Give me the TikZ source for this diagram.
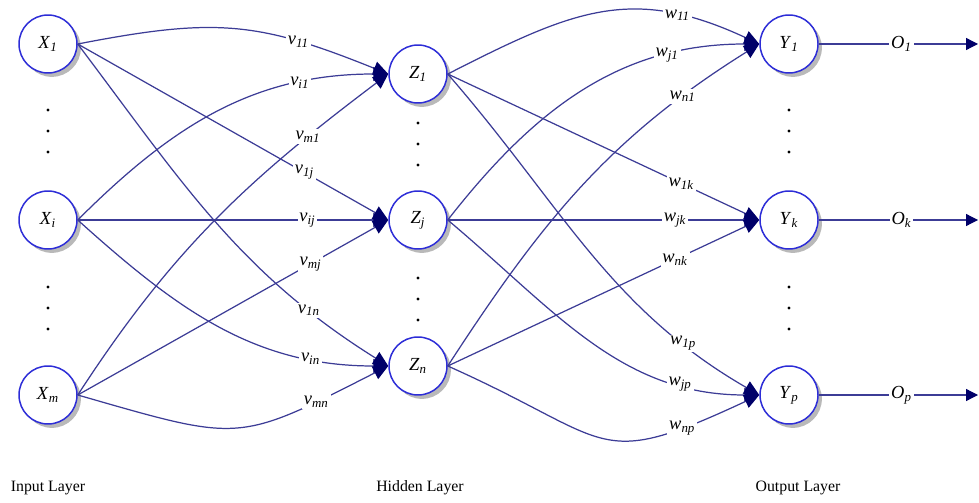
\documentclass[tikz,border=0pt]{standalone}
\usepackage{fontspec}
\setmainfont{Liberation Serif}
\usepackage{tikz}
\usetikzlibrary{arrows.meta,shadows}

\definecolor{ringblue}{RGB}{45,45,215}
\definecolor{edgeblue}{RGB}{60,60,150}
\definecolor{headblue}{RGB}{0,0,105}

\newcommand{\nlab}[2]{\textit{#1}\textsubscript{\textit{#2}}}

\begin{document}
\begin{tikzpicture}[x=0.02cm, y=-0.02cm,
  neuron/.style={circle, draw=ringblue, line width=0.85pt, fill=white, minimum size=1.16cm, inner sep=0pt, font=\fontsize{10.5}{12}\selectfont, drop shadow={shadow xshift=2.2pt, shadow yshift=-2.2pt, fill=black!55}},
  wt/.style={fill=white, inner sep=1pt, font=\fontsize{10.5}{12}\selectfont},
  conn/.style={draw=edgeblue, line width=0.7pt, -{Triangle[length=3mm, width=2.8mm, color=headblue]}},
  outarr/.style={draw=edgeblue, line width=0.7pt, -{Triangle[length=2.4mm, width=2.4mm, color=headblue]}},
  layer/.style={font=\fontsize{9}{11}\selectfont}
]
\useasboundingbox (0,0) rectangle (979,503);

% neurons
\node[neuron] (x1) at (48,44) {\nlab{X}{1}};
\node[neuron] (xi) at (48,220) {\nlab{X}{i}};
\node[neuron] (xm) at (48,395) {\nlab{X}{m}};
\node[neuron] (z1) at (418,74) {\nlab{Z}{1}};
\node[neuron] (zj) at (418,220) {\nlab{Z}{j}};
\node[neuron] (zn) at (418,366) {\nlab{Z}{n}};
\node[neuron] (y1) at (789,44) {\nlab{Y}{1}};
\node[neuron] (yk) at (789,220) {\nlab{Y}{k}};
\node[neuron] (yp) at (789,395) {\nlab{Y}{p}};

% dots between neurons
\foreach \y in {110,131,152,287,308,329} {
  \fill (48,\y) circle (0.9pt);
  \fill (789,\y) circle (0.9pt);
}
\foreach \y in {123,144,165,278,299,320}
  \fill (418,\y) circle (0.9pt);

% input -> hidden
\draw[conn] (x1.east) to[out=11, in=158, looseness=1.15] node[wt, pos=0.73] {\nlab{v}{11}} (z1.west);
\draw[conn] (xi.east) to[out=45, in=180] node[wt, pos=0.76] {\nlab{v}{i1}} (z1.west);
\draw[conn] (xm.east) to[out=57, in=-143] node[wt, pos=0.79] {\nlab{v}{m1}} (z1.west);
\draw[conn] (x1.east) -- node[wt, pos=0.73] {\nlab{v}{1j}} (zj.west);
\draw[conn] (xi.east) -- node[wt, pos=0.74] {\nlab{v}{ij}} (zj.west);
\draw[conn] (xm.east) -- node[wt, pos=0.75] {\nlab{v}{mj}} (zj.west);
\draw[conn] (x1.east) to[out=-53, in=148] node[wt, pos=0.8] {\nlab{v}{1n}} (zn.west);
\draw[conn] (xi.east) to[out=-42, in=180] node[wt, pos=0.79] {\nlab{v}{in}} (zn.west);
\draw[conn] (xm.east) to[out=-16, in=207, looseness=1.4] node[wt, pos=0.81] {\nlab{v}{mn}} (zn.west);

% hidden -> output
\draw[conn] (z1.east) to[out=27, in=155, looseness=1.15] node[wt, pos=0.76] {\nlab{w}{11}} (y1.west);
\draw[conn] (zj.east) to[out=52, in=180] node[wt, pos=0.76] {\nlab{w}{j1}} (y1.west);
\draw[conn] (zn.east) to[out=57, in=212] node[wt, pos=0.81] {\nlab{w}{n1}} (y1.west);
\draw[conn] (z1.east) -- node[wt, pos=0.75] {\nlab{w}{1k}} (yk.west);
\draw[conn] (zj.east) -- node[wt, pos=0.73] {\nlab{w}{jk}} (yk.west);
\draw[conn] (zn.east) -- node[wt, pos=0.73] {\nlab{w}{nk}} (yk.west);
\draw[conn] (z1.east) to[out=-49, in=150] node[wt, pos=0.81] {\nlab{w}{1p}} (yp.west);
\draw[conn] (zj.east) to[out=-40, in=180] node[wt, pos=0.79] {\nlab{w}{jp}} (yp.west);
\draw[conn] (zn.east) to[out=-24, in=205, looseness=1.5] node[wt, pos=0.81] {\nlab{w}{np}} (yp.west);

% outputs
\coordinate (o1) at (978,44);
\coordinate (ok) at (978,220);
\coordinate (op) at (978,395);
\draw[outarr] (y1) -- node[wt, pos=0.52] {\nlab{O}{1}} (o1);
\draw[outarr] (yk) -- node[wt, pos=0.52] {\nlab{O}{k}} (ok);
\draw[outarr] (yp) -- node[wt, pos=0.52] {\nlab{O}{p}} (op);

% layer captions
\node[layer] (inlab) at (48,488) {Input Layer};
\node[layer] (hidlab) at (420,488) {Hidden Layer};
\node[layer] (outlab) at (798,488) {Output Layer};
\end{tikzpicture}
\end{document}
